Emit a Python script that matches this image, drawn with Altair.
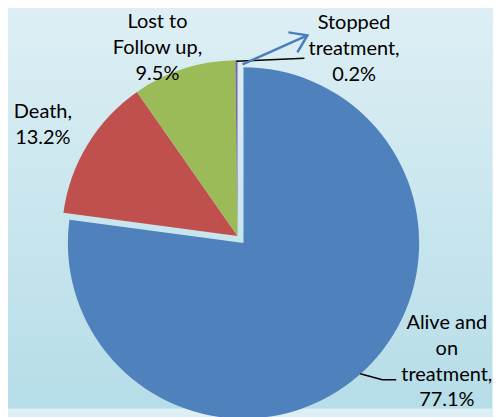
import altair as alt
import pandas as pd

# ---- data ----
categories = ["Alive and on treatment", "Death", "Lost to Follow up", "Stopped treatment"]
values = [77.1, 13.2, 9.5, 0.2]
label_lines = [
    "Alive and\non\ntreatment,\n77.1%",
    "Death,\n13.2%",
    "Lost to\nFollow up,\n9.5%",
    "Stopped\ntreatment,\n0.2%",
]

# ---- styles / layout ----
colors = ["#4F81BD", "#C0504D", "#9BBB59", "#8064A2"]
label_theta = [31.25, 84.0, 94.29, 7.96]     # angle of the label's first line, percent of circle
label_radius = [227, 231, 228.5, 243.5]      # distance of the label's first line from centre, px
W, H = 485, 401
CX, CY = 230, 228
R = 176

df = pd.DataFrame({"category": categories, "value": values,
                   "label": label_lines, "lt": label_theta, "lr": label_radius})

# leader lines and arrow (annotation, pixel coordinates)
ann = pd.DataFrame({
    "x": [229, 297, 353, 375, 389, 235, 300, 281, 300, 290],
    "y": [53, 50, 366, 372, 372, 56, 27, 24, 27, 44],
    "g": ["s", "s", "a", "a", "a", "arrow", "arrow", "head", "head", "head"],
    "o": [0, 1, 0, 1, 2, 0, 1, 0, 1, 2],
})

grad = alt.LinearGradient(
    gradient="linear",
    stops=[alt.GradientStop(offset=0, color="#DDEFF4"),
           alt.GradientStop(offset=1, color="#B6DDE8")],
    x1=0, x2=0, y1=0, y2=1,
)

bg = alt.Chart(pd.DataFrame({"a": [0]})).mark_rect(fill=grad).encode(
    x=alt.value(0), x2=alt.value("width"), y=alt.value(0), y2=alt.value("height")
)

base = alt.Chart(df).transform_window(
    end="sum(value)", frame=[None, 0]
).transform_calculate(start="datum.end - datum.value")

color = alt.Color("category:N", scale=alt.Scale(domain=categories, range=colors), legend=None)
theta_scale = alt.Scale(domain=[0, 100], range=[0, 6.283185307179586])

others = base.transform_filter(alt.datum.category != categories[0]).mark_arc(
    radius=R
).encode(
    theta=alt.Theta("start:Q", scale=theta_scale),
    theta2="end:Q",
    color=color,
    x=alt.value(CX), y=alt.value(CY),
)

alive = base.transform_filter(alt.datum.category == categories[0]).mark_arc(
    radius=R, xOffset=6, yOffset=7
).encode(
    theta=alt.Theta("start:Q", scale=theta_scale),
    theta2="end:Q",
    color=color,
    x=alt.value(CX), y=alt.value(CY),
)

lines_black = alt.Chart(ann).transform_filter(
    (alt.datum.g == "s") | (alt.datum.g == "a")
).mark_line(color="black", strokeWidth=1.5).encode(
    x=alt.X("x:Q", scale=None, axis=None),
    y=alt.Y("y:Q", scale=None, axis=None),
    detail="g:N", order="o:Q",
)

lines_arrow = alt.Chart(ann).transform_filter(
    (alt.datum.g == "arrow") | (alt.datum.g == "head")
).mark_line(color="#4A7EBB", strokeWidth=2.5).encode(
    x=alt.X("x:Q", scale=None, axis=None),
    y=alt.Y("y:Q", scale=None, axis=None),
    detail="g:N", order="o:Q",
)

labels = alt.Chart(df).mark_text(
    font="Lato", fontSize=20, lineHeight=26, lineBreak="\n",
    align="center", baseline="middle", color="black",
).encode(
    theta=alt.Theta("lt:Q", scale=theta_scale),
    radius=alt.Radius("lr:Q", scale=None),
    text="label:N",
    x=alt.value(CX), y=alt.value(CY),
)

chart = alt.layer(bg, others, alive, lines_black, lines_arrow, labels).properties(
    width=W, height=H, padding=0, background="#DDEFF4"
).configure_view(strokeWidth=0)

chart.save("out.html", embed_options={"renderer": "svg", "actions": False})
